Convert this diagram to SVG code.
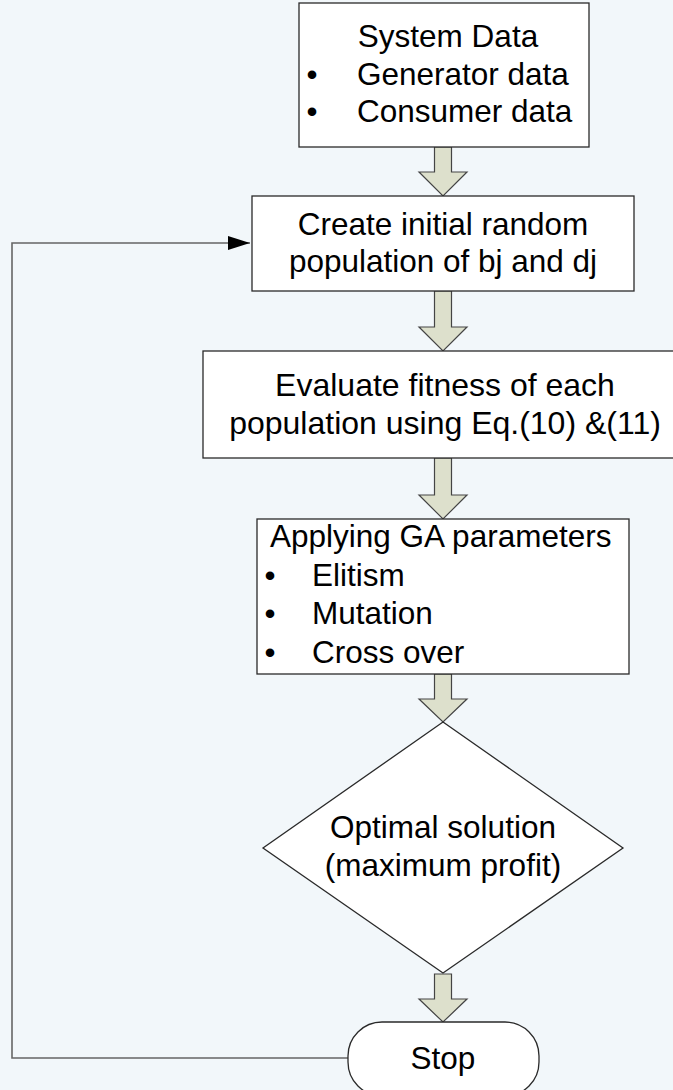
<svg xmlns="http://www.w3.org/2000/svg" width="673" height="1090" viewBox="0 0 673 1090">
<defs>
<style>
.t{font-family:"Liberation Sans",Arial,sans-serif;font-size:31.5px;fill:#000}
.c{text-anchor:middle}
.box{fill:#fff;stroke:#2a2a2a;stroke-width:1.3}
.blk{fill:#DDE0CC;stroke:#444;stroke-width:1.2}
.ln{fill:none;stroke:#666;stroke-width:1.6}
</style>
<marker id="ah" markerWidth="22" markerHeight="14" refX="22" refY="7" orient="auto" markerUnits="userSpaceOnUse">
<path d="M0,0 L22,7 L0,14 Z" fill="#000"/>
</marker>
</defs>
<rect width="673" height="1090" fill="#F2F7FA"/>
<g id="connectors">
<path class="ln" d="M348,1058 H12 V243 H250" marker-end="url(#ah)"/>
<path class="blk" d="M434.5,147 H451.5 V172 H467 L443,196 L419,172 H434.5 Z"/>
<path class="blk" d="M434.5,291 H451.5 V327 H467 L443,351 L419,327 H434.5 Z"/>
<path class="blk" d="M434.5,458 H451.5 V495 H467 L443,519 L419,495 H434.5 Z"/>
<path class="blk" d="M434.5,674 H451.5 V699 H467 L443,722 L419,699 H434.5 Z"/>
<path class="blk" d="M434.5,974 H451.5 V999 H467 L443,1022 L419,999 H434.5 Z"/>
</g>
<g id="n1">
<rect class="box" x="299" y="3" width="290" height="144"/>
<text class="t c" x="448" y="47">System Data</text>
<text class="t c" x="312" y="85">•</text>
<text class="t" x="357" y="85">Generator data</text>
<text class="t c" x="312" y="122">•</text>
<text class="t" x="357" y="122">Consumer data</text>
</g>
<g id="n2">
<rect class="box" x="252" y="196" width="382" height="95"/>
<text class="t c" x="443" y="235">Create initial random</text>
<text class="t c" x="443" y="272">population of bj and dj</text>
</g>
<g id="n3">
<rect class="box" x="203" y="351" width="560" height="107"/>
<text class="t c" x="445" y="396" style="font-size:32px">Evaluate fitness of each</text>
<text class="t c" x="445" y="434" style="font-size:32px">population using Eq.(10) &amp;(11)</text>
</g>
<g id="n4">
<rect class="box" x="257" y="519" width="372" height="155"/>
<text class="t" x="270" y="547">Applying GA parameters</text>
<text class="t c" x="270" y="586">•</text>
<text class="t" x="312" y="586">Elitism</text>
<text class="t c" x="270" y="624">•</text>
<text class="t" x="312" y="624">Mutation</text>
<text class="t c" x="270" y="663">•</text>
<text class="t" x="312" y="663">Cross over</text>
</g>
<g id="n5">
<path class="box" d="M443,722 L623,848 L443,973 L263,848 Z"/>
<text class="t c" x="443" y="838">Optimal solution</text>
<text class="t c" x="443" y="876">(maximum profit)</text>
</g>
<g id="n6">
<rect class="box" x="348" y="1022" width="191" height="74" rx="34" ry="34"/>
<text class="t c" x="443" y="1069">Stop</text>
</g>
</svg>
